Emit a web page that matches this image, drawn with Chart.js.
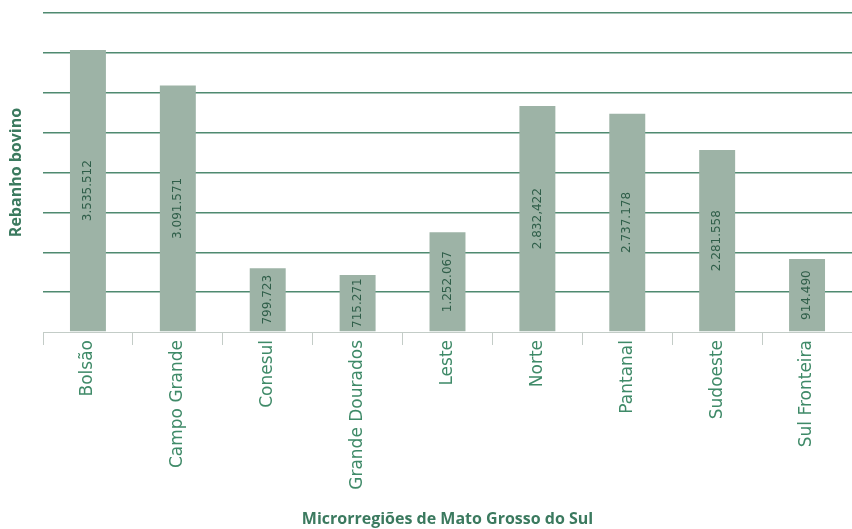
<!DOCTYPE html>
<html>
<head>
<meta charset="utf-8">
<script src="https://cdn.jsdelivr.net/npm/chart.js@4/dist/chart.umd.min.js"></script>
<style>
html,body{margin:0;padding:0;background:#fff;}
#wrap{width:852px;height:529px;position:relative;}
</style>
</head>
<body>
<div id="wrap"><canvas id="c" width="852" height="529"></canvas></div>
<script>
const categories = ["Bolsão","Campo Grande","Conesul","Grande Dourados","Leste","Norte","Pantanal","Sudoeste","Sul Fronteira"];
const herdValues = [3535512, 3091571, 799723, 715271, 1252067, 2832422, 2737178, 2281558, 914490];
const valueLabels = ["3.535.512","3.091.571","799.723","715.271","1.252.067","2.832,422","2.737.178","2.281.558","914.490"];
const yTicks = [0, 500000, 1000000, 1500000, 2000000, 2500000, 3000000, 3500000, 4000000];

const FONT = "'Open Sans', 'DejaVu Sans', sans-serif";
const WIDE = "'DejaVu Sans', sans-serif";

const labelPlugin = {
  id: 'barLabels',
  afterDatasetsDraw(chart) {
    const ctx = chart.ctx;
    const meta = chart.getDatasetMeta(0);
    ctx.save();
    ctx.fillStyle = '#2f5e49';
    ctx.font = "12px " + WIDE;
    ctx.textAlign = 'center';
    ctx.textBaseline = 'middle';
    meta.data.forEach((el, i) => {
      const cy = (el.y + el.base) / 2;
      ctx.save();
      ctx.translate(el.x, cy);
      ctx.rotate(-Math.PI / 2);
      ctx.fillText(valueLabels[i], 0, 0);
      ctx.restore();
    });
    ctx.restore();
  }
};

new Chart(document.getElementById('c'), {
  type: 'bar',
  data: {
    labels: categories,
    datasets: [{
      data: herdValues,
      backgroundColor: '#9db3a6',
      barPercentage: 0.4,
      categoryPercentage: 1.0
    }]
  },
  options: {
    responsive: false,
    animation: false,
    layout: { padding: { top: 13, right: 0, bottom: 0, left: 0 } },
    plugins: { legend: { display: false }, tooltip: { enabled: false } },
    scales: {
      x: {
        grid: { offset: true, drawOnChartArea: false, drawTicks: true, tickLength: 13, color: '#c3ccc7', lineWidth: 1 },
        border: { display: true, color: '#c3ccc7', width: 1 },
        ticks: { color: '#3f8a68', font: { family: WIDE, size: 17 }, maxRotation: 90, minRotation: 90, padding: -5 },
        title: { display: true, text: 'Microrregiões de Mato Grosso do Sul', color: '#3b7a5f', font: { family: FONT, size: 16, weight: 'bold' }, padding: { top: 0, bottom: 0 } },
        afterFit(scale) { scale.height = 197; }
      },
      y: {
        min: 0, max: 4000000,
        afterBuildTicks(scale) { scale.ticks = yTicks.map(v => ({ value: v })); },
        ticks: { display: false },
        grid: { drawTicks: false, color: (c) => c.tick && c.tick.value === 0 ? 'rgba(0,0,0,0)' : '#4f8a70', lineWidth: 1.5 },
        border: { display: false },
        title: { display: true, text: 'Rebanho bovino', color: '#3b7a5f', font: { family: FONT, size: 16, weight: 'bold' }, padding: { top: 7, bottom: 0 } },
        afterFit(scale) { scale.width = 43; }
      }
    }
  },
  plugins: [labelPlugin]
});
</script>
</body>
</html>
